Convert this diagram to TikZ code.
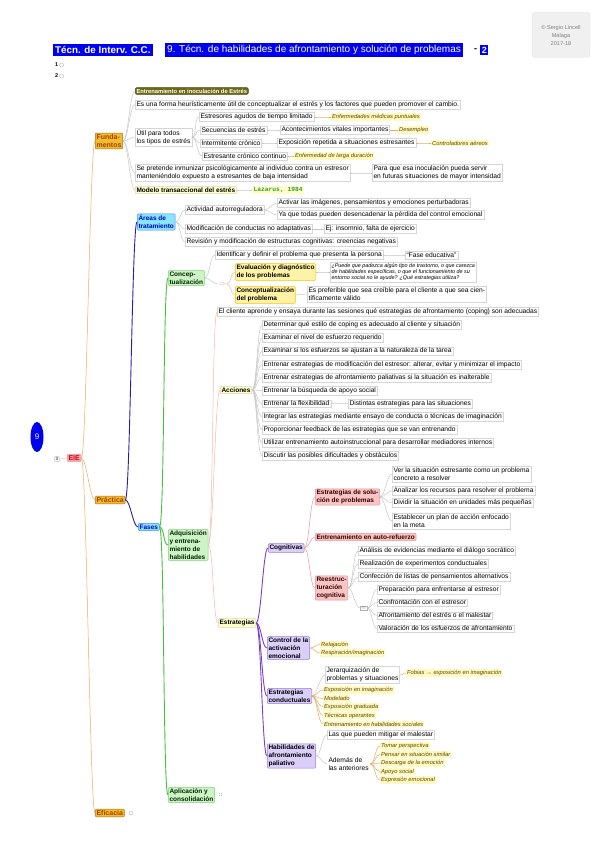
\documentclass[tikz,border=0pt]{standalone}
\usepackage{fontspec}
\setmainfont{Liberation Sans}
\setmonofont{Liberation Mono}
\usetikzlibrary{shapes.geometric}

\definecolor{hdrblue}{HTML}{0000EE}
\definecolor{olivebox}{HTML}{6C6814}
\definecolor{orangebox}{HTML}{F7B92F}
\definecolor{orangetxt}{HTML}{9B4600}
\definecolor{pinkbox}{HTML}{F6AAB2}
\definecolor{cyanbox}{HTML}{88E7FF}
\definecolor{greenbox}{HTML}{CEF3C6}
\definecolor{yellowbox}{HTML}{FFFFCB}
\definecolor{goldbox}{HTML}{FFF4A6}
\definecolor{lilacbox}{HTML}{DACFF9}
\definecolor{redbox}{HTML}{F9C4C4}
\definecolor{notebg}{HTML}{FFFAC0}
\definecolor{notetxt}{HTML}{5E4300}
\definecolor{lnorange}{HTML}{E6AB5E}
\definecolor{lngray}{HTML}{C6C6C6}
\definecolor{lnblue}{HTML}{2B1DA3}
\definecolor{lngreen}{HTML}{44C23C}
\definecolor{lnpink}{HTML}{F3B7A8}
\definecolor{lnpurple}{HTML}{7B3ECB}
\definecolor{lnred}{HTML}{EE9494}

\newcommand{\fsn}{\fontsize{6.7}{8}\selectfont}
\newcommand{\fss}{\fontsize{5.8}{6.6}\selectfont}
\newcommand{\fsk}{\fontsize{6.5}{7.8}\selectfont\bfseries}

\tikzset{
  lbl/.style={anchor=west, align=left, inner sep=1.3pt, font=\fsn},
  txt/.style={lbl, draw=black!16, fill=white, line width=0.4pt},
  keybox/.style={lbl, font=\fsk, rounded corners=1pt, line width=0.5pt},
  olv/.style={keybox, fill=olivebox, draw=olivebox!70!black, text=white, rounded corners=2pt, font=\fontsize{5.8}{7}\selectfont\bfseries},
  brn/.style={keybox, fill=orangebox, draw=orangebox!65!black, text=orangetxt, font=\fontsize{7}{8.2}\selectfont\bfseries},
  cyn/.style={keybox, fill=cyanbox, draw=cyanbox!55!blue, text=blue!75!black},
  grn/.style={keybox, fill=greenbox, draw=lngreen!70, text=green!15!black},
  ylw/.style={keybox, fill=yellowbox, draw=yellow!50!black!35},
  gld/.style={keybox, fill=goldbox, draw=orange!50!yellow},
  lil/.style={keybox, fill=lilacbox, draw=lnpurple!70},
  rdb/.style={keybox, fill=redbox, draw=lnred, text=red!20!black},
  nt/.style={anchor=west, inner sep=0.9pt, font=\fss\itshape, fill=notebg, text=notetxt},
  hdr/.style={anchor=west, inner sep=2pt, fill=hdrblue, text=white, font=\fontsize{10}{11}\selectfont},
  fold/.style={circle, draw=black!30, inner sep=0pt, minimum size=4pt},
  lk/.style={draw=#1, out=0, in=180, distance=5pt, line width=0.5pt},
  lk/.default=lngray,
  lkb/.style={lk=#1, line width=0.9pt}
}

\begin{document}
\begin{tikzpicture}[x=1pt,y=-1pt]
\useasboundingbox (0,0) rectangle (599,848);

% cabecera
\node[hdr, font=\fontsize{9.8}{11}\selectfont\bfseries] (tec) at (53,50) {Técn. de Interv. C.C.};
\node[hdr] (tit) at (165,50) {9. Técn. de habilidades de afrontamiento y solución de problemas};
\node[lbl, inner sep=0pt, font=\fontsize{9}{10}\selectfont\bfseries] (gui) at (474,50) {-};
\node[hdr, inner sep=1.6pt, font=\fontsize{9}{10}\selectfont\bfseries] (pag) at (480,50) {2};
\node[lbl, inner sep=0pt, font=\fontsize{5.5}{6}\selectfont\bfseries] (uno) at (55,65) {1};
\node[lbl, inner sep=0pt, font=\fontsize{5.5}{6}\selectfont\bfseries] (dos) at (55,76) {2};
\node[fold] (funo) at (61.5,65) {};
\node[fold] (fdos) at (61.5,76) {};
\node[draw=black!12, fill=black!6, rounded corners=3pt, text=black!50, align=center,
      font=\fontsize{5.6}{8}\selectfont, minimum width=58pt, minimum height=45pt] (cred) at (561,35)
      {© Sergio Lincell\\Málaga\\2017-18};

% raiz
\node[ellipse, fill=hdrblue, text=white, inner sep=0pt, minimum width=13pt, minimum height=30pt,
      font=\fontsize{8}{9}\selectfont] (nueve) at (37,437) {9};
\node[fold, minimum size=6pt, font=\fontsize{4.5}{5}\selectfont] (tres) at (57,459) {3};
\node[keybox, fill=pinkbox, draw=lnred, text=red!85!black, font=\fontsize{7}{8}\selectfont\bfseries] (eie) at (67,458) {EIE};
\draw[lnred!70] (tres) -- (eie);

\node[brn] (fun) at (95,141) {Funda-\\mentos};
\node[brn] (pra) at (95,500) {Práctica};
\node[brn] (efi) at (95,813) {Eficacia};
\node[fold] (fefi) at (131,813) {};
\path[lk=lnorange] (eie) edge (fun) edge (pra) edge (efi);

% fundamentos
\node[olv] (ent) at (135,91) {Entrenamiento en inoculación de Estrés};
\node[txt] (heu) at (135,104.5) {Es una forma heurísticamente útil de conceptualizar el estrés y los factores que pueden promover el cambio.};
\node[txt] (uti) at (135,137) {Útil para todos\\los tipos de estrés};
\node[txt] (agu) at (199,117) {Estresores agudos de tiempo limitado};
\node[nt] (nagu) at (331,117) {Enfermedades médicas puntuales};
\node[txt] (sec) at (200,130) {Secuencias de estrés};
\node[txt] (aco) at (280,130) {Acontecimientos vitales importantes};
\node[nt] (naco) at (398,130) {Desempleo};
\node[txt] (itm) at (200,143) {Intermitente crónico};
\node[txt] (exr) at (277,143) {Exposición repetida a situaciones estresantes};
\node[nt] (nexr) at (431,143) {Controladores aéreos};
\node[txt] (cnt) at (202,156) {Estresante crónico continuo};
\node[nt] (ncnt) at (294,156) {Enfermedad de larga duración};
\node[txt] (pre) at (135,173) {Se pretende inmunizar psicológicamente al individuo contra un estresor\\manteniéndolo expuesto a estresantes de baja intensidad};
\node[txt] (par) at (372,173) {Para que esa inoculación pueda servir\\en futuras situaciones de mayor intensidad};
\node[ylw] (mod) at (135,190) {Modelo transaccional del estrés};
\node[ylw, draw=none, text=lngreen!80!black, font=\fontsize{6.3}{7}\selectfont\ttfamily\bfseries] (laz) at (252,190) {Lazarus, 1984};
\path[lk] (fun) edge (ent) edge (heu) edge (uti) edge (pre) edge (mod);
\path[lk] (uti) edge (agu) edge (sec) edge (itm) edge (cnt);
\path[lk] (sec) edge (aco) (itm) edge (exr) (pre) edge (par) (mod) edge (laz);
\path[lk=lnorange] (agu) edge (nagu) (aco) edge (naco) (exr) edge (nexr) (cnt) edge (ncnt);

% practica
\node[cyn] (are) at (137,222) {Áreas de\\tratamiento};
\node[txt] (act) at (185,210) {Actividad autorreguladora};
\node[txt] (act1) at (277,203) {Activar las imágenes, pensamientos y emociones perturbadoras};
\node[txt] (act2) at (277,215) {Ya que todas pueden desencadenar la pérdida del control emocional};
\node[txt] (mdf) at (185,229) {Modificación de conductas no adaptativas};
\node[txt] (ejm) at (324,229) {Ej: insomnio, falta de ejercicio};
\node[txt] (rev) at (185,242) {Revisión y modificación de estructuras cognitivas: creencias negativas};
\node[cyn] (fas) at (138,527) {Fases};
\path[lkb=lnblue] (pra) edge (are) edge (fas);
\path[lk] (are) edge (act) edge (mdf) edge (rev);
\path[lk] (act) edge (act1) edge (act2) (mdf) edge (ejm);

% conceptualizacion
\node[grn] (cnc) at (168,278) {Concep-\\tualización};
\node[txt] (idf) at (215,255) {Identificar y definir el problema que presenta la persona};
\node[txt] (edu) at (405,255) {“Fase educativa”};
\node[lbl, inner sep=0.5pt, text=lnred, font=\fontsize{6}{6}\selectfont] (flc) at (218,284) {$\Rightarrow$};
\node[gld] (evl) at (235,272) {Evaluación y diagnóstico\\de los problemas};
\node[txt, font=\fontsize{5.4}{6.1}\selectfont\itshape] (evn) at (330,272) {¿Puede que padezca algún tipo de trastorno, o que carezca\\de habilidades específicas, o que el funcionamiento de su\\entorno social no le ayude? ¿Qué estrategias utiliza?};
\node[gld] (cpr) at (235,295) {Conceptualización\\del problema};
\node[txt] (prf) at (307,294) {Es preferible que sea creíble para el cliente a que sea cien-\\tíficamente válido};
\path[lk] (cnc) edge (idf) edge (flc);
\path[lk=lnpink] (flc) edge (evl) edge (cpr);
\path[lk] (idf) edge (edu) (evl) edge (evn) (cpr) edge (prf);

% adquisicion
\node[grn] (adq) at (168,545) {Adquisición\\y entrena-\\miento de\\habilidades};
\node[txt] (cli) at (217,312) {El cliente aprende y ensaya durante las sesiones qué estrategias de afrontamiento (coping) son adecuadas};
\node[ylw] (acc) at (220,390) {Acciones};
\foreach \t [count=\i] in {
  {Determinar qué estilo de coping es adecuado al cliente y situación},
  {Examinar el nivel de esfuerzo requerido},
  {Examinar si los esfuerzos se ajustan a la naturaleza de la tarea},
  {Entrenar estrategias de modificación del estresor: alterar, evitar y minimizar el impacto},
  {Entrenar estrategias de afrontamiento paliativas si la situación es inalterable},
  {Entrenar la búsqueda de apoyo social},
  {Entrenar la flexibilidad},
  {Integrar las estrategias mediante ensayo de conducta o técnicas de imaginación},
  {Proporcionar feedback de las estrategias que se van entrenando},
  {Utilizar entrenamiento autoinstruccional para desarrollar mediadores internos},
  {Discutir las posibles dificultades y obstáculos}}
  \node[txt] (ac\i) at (262,{325+13.1*(\i-1)}) {\t};
\node[txt] (flx) at (348,403.6) {Distintas estrategias para las situaciones};
\node[ylw] (est) at (218,623) {Estrategias};
\node[grn] (apl) at (168,795) {Aplicación y\\consolidación};
\node[lbl, text=black!40, font=\fontsize{6}{6}\selectfont\bfseries] (fapl) at (217,795) {::};
\path[lkb=lngreen] (fas) edge (cnc) edge (adq) edge (apl);
\path[lk=lnpink] (adq) edge (cli) edge (acc) edge (est);
\foreach \i in {1,...,11} \path[lk] (acc) edge (ac\i);
\path[lk] (ac7) edge (flx);

% estrategias cognitivas
\node[lil] (cog) at (268,548) {Cognitivas};
\node[rdb] (sol) at (315,497) {Estrategias de solu-\\ción de problemas};
\node[txt] (so1) at (392,474) {Ver la situación estresante como un problema\\concreto a resolver};
\node[txt] (so2) at (392,491) {Analizar los recursos para resolver el problema};
\node[txt] (so3) at (392,503) {Dividir la situación en unidades más pequeñas};
\node[txt] (so4) at (392,521) {Establecer un plan de acción enfocado\\en la meta};
\node[rdb] (aut) at (315,537) {Entrenamiento en auto-refuerzo};
\node[rdb] (ree) at (315,588) {Reestruc-\\turación\\cognitiva};
\node[txt] (re1) at (358,551) {Análisis de evidencias mediante el diálogo socrático};
\node[txt] (re2) at (358,564) {Realización de experimentos conductuales};
\node[txt] (re3) at (358,577) {Confección de listas de pensamientos alternativos};
\node[lbl, draw=black!30, inner sep=0.6pt, text=black!50, font=\fontsize{5}{5}\selectfont] (lst) at (360,608) {$\equiv$};
\node[txt] (li1) at (377,589.5) {Preparación para enfrentarse al estresor};
\node[txt] (li2) at (377,602.5) {Confrontación con el estresor};
\node[txt] (li3) at (377,615.5) {Afrontamiento del estrés o el malestar};
\node[txt] (li4) at (377,628.5) {Valoración de los esfuerzos de afrontamiento};
\path[lkb=lnpurple] (est) edge (cog);
\path[lk=lnred] (cog) edge (sol) edge (aut) edge (ree);
\path[lk] (sol) edge (so1) edge (so2) edge (so3) edge (so4);
\path[lk] (ree) edge (re1) edge (re2) edge (re3) edge (lst);
\path[lk] (lst) edge (li1) edge (li2) edge (li3) edge (li4);

% activacion, conductuales, paliativas
\node[lil] (ctr) at (267,648) {Control de la\\activación\\emocional};
\node[nt] (rel) at (320,644.5) {Relajación};
\node[nt] (res) at (320,653) {Respiración/imaginación};
\node[lil] (cnd) at (267,696) {Estrategias\\conductuales};
\node[txt] (jer) at (325,675) {Jerarquización de\\problemas y situaciones};
\node[nt] (fob) at (406,673) {Fobias → exposición en imaginación};
\node[nt] (cd1) at (323,690) {Exposición en imaginación};
\node[nt] (cd2) at (323,698.5) {Modelado};
\node[nt] (cd3) at (323,707) {Exposición graduada};
\node[nt] (cd4) at (323,715.5) {Técnicas operantes};
\node[nt] (cd5) at (323,724) {Entrenamiento en habilidades sociales};
\node[lil] (pal) at (267,756) {Habilidades de\\afrontamiento\\paliativo};
\node[txt] (mit) at (327,735) {Las que pueden mitigar el malestar};
\node[txt, draw=none] (ade) at (327,764) {Además de\\las anteriores};
\node[nt] (pa1) at (380,746) {Tomar perspectiva};
\node[nt] (pa2) at (380,754.5) {Pensar en situación similar};
\node[nt] (pa3) at (380,763) {Descarga de la emoción};
\node[nt] (pa4) at (380,771.5) {Apoyo social};
\node[nt] (pa5) at (380,780) {Expresión emocional};
\path[lkb=lnpurple] (est) edge (ctr) edge (cnd) edge (pal);
\path[lk=lnorange] (ctr) edge (rel) edge (res);
\path[lk] (cnd) edge (jer);
\path[lk=lnorange] (jer) edge (fob) (cnd) edge (cd1) edge (cd2) edge (cd3) edge (cd4) edge (cd5);
\path[lk] (pal) edge (mit) edge (ade);
\path[lk=lnorange] (ade) edge (pa1) edge (pa2) edge (pa3) edge (pa4) edge (pa5);
\end{tikzpicture}
\end{document}
